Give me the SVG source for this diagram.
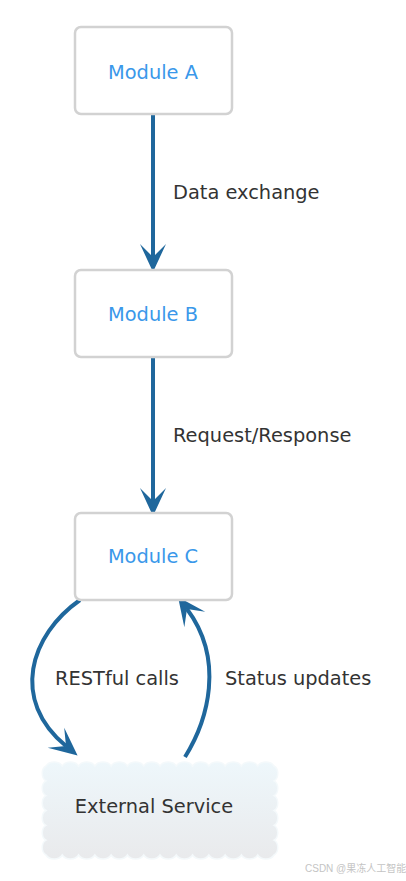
<svg xmlns="http://www.w3.org/2000/svg" width="406" height="881" viewBox="0 0 406 881">
<defs>
<style>
.box{fill:#ffffff;stroke:#d2d2d2;stroke-width:2.5}
.mod{font-family:"DejaVu Sans",Verdana,sans-serif;font-size:19.4px;fill:#3a98ea;text-anchor:middle}
.lbl{font-family:"DejaVu Sans",Verdana,sans-serif;font-size:19.4px;fill:#333333}
.edge{fill:none;stroke:#1f679c;stroke-width:4}
.wm{font-family:"Liberation Sans","Noto Sans CJK SC",sans-serif;font-size:10px;fill:#c4c4c4}
</style>
<marker id="arr" markerUnits="userSpaceOnUse" viewBox="-15 -15 32 30" refX="0" refY="0" markerWidth="32" markerHeight="30" orient="auto">
<path d="M15,0 L-13,-13 L0,0 L-13,13 Z" fill="#1f679c"/>
</marker>
<linearGradient id="cg" x1="0" y1="0" x2="0" y2="1">
<stop offset="0" stop-color="#eef7fb"/>
<stop offset="1" stop-color="#e9eaec"/>
</linearGradient>
</defs>
<g id="connectors">
<path class="edge" d="M153,115 V257" marker-end="url(#arr)"/>
<path class="edge" d="M153,357 V501" marker-end="url(#arr)"/>
<path class="edge" d="M80,600 C30,635 10,700 66,746" marker-end="url(#arr)"/>
<path class="edge" d="M185,757 C208,720 225,660 187,609" marker-end="url(#arr)"/>
<text class="lbl" x="173" y="199">Data exchange</text>
<text class="lbl" x="173" y="442">Request/Response</text>
<text class="lbl" x="55" y="685">RESTful calls</text>
<text class="lbl" x="225" y="685">Status updates</text>
</g>
<g id="moduleA">
<rect class="box" x="75" y="27" width="157" height="87" rx="6"/>
<text class="mod" x="153" y="79">Module A</text>
</g>
<g id="moduleB">
<rect class="box" x="75" y="270" width="157" height="87" rx="6"/>
<text class="mod" x="153" y="321">Module B</text>
</g>
<g id="moduleC">
<rect class="box" x="75" y="513" width="157" height="87" rx="6"/>
<text class="mod" x="153" y="563">Module C</text>
</g>
<g id="external">
<path fill="url(#cg)" stroke="#f4f9fb" stroke-width="1.5" d="M46,766 a9,7 0 0,1 16.286,0 a9,7 0 0,1 16.286,0 a9,7 0 0,1 16.286,0 a9,7 0 0,1 16.286,0 a9,7 0 0,1 16.286,0 a9,7 0 0,1 16.286,0 a9,7 0 0,1 16.286,0 a9,7 0 0,1 16.286,0 a9,7 0 0,1 16.286,0 a9,7 0 0,1 16.286,0 a9,7 0 0,1 16.286,0 a9,7 0 0,1 16.286,0 a9,7 0 0,1 16.286,0 a9,7 0 0,1 16.286,0 a6,8 0 0,1 0,14.833 a6,8 0 0,1 0,14.833 a6,8 0 0,1 0,14.833 a6,8 0 0,1 0,14.833 a6,8 0 0,1 0,14.833 a6,8 0 0,1 0,14.833 a9,7 0 0,1 -16.286,0 a9,7 0 0,1 -16.286,0 a9,7 0 0,1 -16.286,0 a9,7 0 0,1 -16.286,0 a9,7 0 0,1 -16.286,0 a9,7 0 0,1 -16.286,0 a9,7 0 0,1 -16.286,0 a9,7 0 0,1 -16.286,0 a9,7 0 0,1 -16.286,0 a9,7 0 0,1 -16.286,0 a9,7 0 0,1 -16.286,0 a9,7 0 0,1 -16.286,0 a9,7 0 0,1 -16.286,0 a9,7 0 0,1 -16.286,0 a6,8 0 0,1 0,-14.833 a6,8 0 0,1 0,-14.833 a6,8 0 0,1 0,-14.833 a6,8 0 0,1 0,-14.833 a6,8 0 0,1 0,-14.833 a6,8 0 0,1 0,-14.833 Z"/>
<text class="lbl" x="154" y="813" text-anchor="middle">External Service</text>
</g>
<text class="wm" x="305" y="872">CSDN @果冻人工智能</text>
</svg>
